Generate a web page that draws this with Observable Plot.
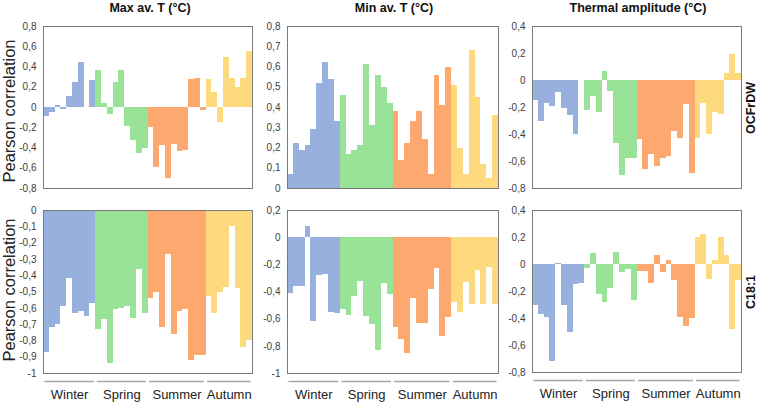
<!DOCTYPE html>
<html><head><meta charset="utf-8">
<script src="https://cdn.jsdelivr.net/npm/d3@7"></script>
<script src="https://cdn.jsdelivr.net/npm/@observablehq/plot@0.6"></script>
<style>
body{margin:0;background:#fff;font-family:"Liberation Sans",Arial,sans-serif;}
#chart{position:relative;width:758px;height:402px;overflow:hidden;background:#fff;}
.abs{position:absolute;}
.title{font-weight:bold;font-size:12.5px;color:#111;transform:translate(-50%,-50%);white-space:nowrap;}
.ylab{font-size:16.5px;color:#222;transform:translate(-50%,-50%) rotate(-90deg);white-space:nowrap;}
.rowlab{font-weight:bold;font-size:12.5px;color:#111;transform:translate(-50%,-50%) rotate(-90deg);white-space:nowrap;}
</style></head><body><div id="chart"></div>
<script>
const seasons = ["Winter", "Spring", "Summer", "Autumn"];
const seasonCounts = [9, 9, 10, 8];
const seasonColors = ["#98B0DE", "#98E398", "#FCA86E", "#FEDA7E"];

const maxT_OCFrDW = [-0.09,-0.05,0.02,-0.02,0.11,0.25,0.44,0,0.27,
  0.37,0.04,-0.07,0.25,0.37,-0.19,-0.33,-0.45,-0.40,
  -0.20,-0.59,-0.38,-0.70,-0.37,-0.43,-0.42,0.28,0.29,-0.03,
  0.28,0.15,-0.15,0.49,0.29,0.20,0.29,0.55];
const minT_OCFrDW = [0.07,0.22,0.19,0.21,0.29,0.52,0.62,0.54,0.33,
  0.46,0.17,0.19,0.21,0.61,0.31,0.56,0.50,0.42,
  0.38,0.14,0.22,0.33,0.38,0.24,0.07,0.56,0.41,0.60,
  0.51,0.20,0.07,0.68,0.45,0.12,0.05,0.36];
const ampl_OCFrDW = [-0.15,-0.30,-0.17,-0.19,-0.09,-0.21,-0.26,-0.40,0,
  -0.22,-0.12,-0.24,0.07,-0.08,-0.47,-0.70,-0.58,-0.58,
  -0.44,-0.66,-0.55,-0.64,-0.58,-0.56,-0.38,-0.43,-0.18,-0.69,
  -0.43,-0.17,-0.40,-0.24,-0.25,0.05,0.19,0.05];
const maxT_C181 = [-0.87,-0.72,-0.70,-0.59,-0.42,-0.63,-0.62,-0.65,-0.57,
  -0.73,-0.67,-0.94,-0.61,-0.60,-0.59,-0.66,-0.36,-0.63,
  -0.54,-0.50,-0.72,-0.27,-0.76,-0.62,-0.61,-0.92,-0.89,-0.89,
  -0.53,-0.63,-0.50,-0.47,-0.10,-0.48,-0.84,-0.80];
const minT_C181 = [-0.41,-0.36,-0.36,0.08,-0.62,-0.28,-0.27,-0.55,-0.56,
  -0.53,-0.57,-0.43,-0.32,-0.58,-0.64,-0.83,-0.34,-0.42,
  -0.66,-0.75,-0.85,-0.45,-0.63,-0.63,-0.38,-0.23,-0.73,-0.59,
  -0.48,-0.55,-0.33,-0.49,-0.24,-0.49,-0.22,-0.49];
const ampl_C181 = [-0.30,-0.37,-0.39,-0.72,0.01,-0.30,-0.50,-0.15,-0.14,
  -0.03,0.08,-0.22,-0.28,-0.18,0.09,-0.06,-0.04,-0.27,
  -0.05,-0.05,-0.14,0.07,-0.06,0.03,-0.12,-0.39,-0.46,-0.40,
  0.20,0.22,-0.11,0.03,0.20,0.07,-0.48,-0.12];

const ticksMaxTop = [-0.8,-0.6,-0.4,-0.2,0,0.2,0.4,0.6,0.8];
const ticksMinTop = [0,0.1,0.2,0.3,0.4,0.5,0.6,0.7,0.8];
const ticksAmpl = [-0.8,-0.6,-0.4,-0.2,0,0.2,0.4];
const ticksMaxBottom = [-1,-0.9,-0.8,-0.7,-0.6,-0.5,-0.4,-0.3,-0.2,-0.1,0];
const ticksMinBottom = [-1,-0.8,-0.6,-0.4,-0.2,0,0.2];

const titles = ["Max av. T (°C)", "Min av. T (°C)", "Thermal amplitude (°C)"];
const rowLabels = ["OCFrDW", "C18:1"];
const yLabel = "Pearson correlation";

// season index table
const seasonOf = [];
const spans = [];
let start = 0;
seasons.forEach((s, k) => {
  for (let j = 0; j < seasonCounts[k]; j++) seasonOf.push(s);
  spans.push({name: s, x1: start + 0.25, x2: start + seasonCounts[k] - 0.25, mid: start + seasonCounts[k] / 2});
  start += seasonCounts[k];
});
const N = seasonOf.length;

const fmt = d => d === 0 ? "0" : String(d).replace(".", ",");
const chart = document.getElementById("chart");
const FONT = '"Liberation Sans", Arial, sans-serif';

function panel(values, yTicks, frameLeft, frameTop, fw, fh, bottomRow) {
  const ML = 40, MR = 4, MT = 6, MB = bottomRow ? 34 : 6;
  const data = values.map((v, i) => ({i, v, season: seasonOf[i]}));
  const ymin = yTicks[0], ymax = yTicks[yTicks.length - 1];
  const marks = [
    Plot.rectY(data, {x1: "i", x2: d => d.i + 1, y: "v", fill: "season", shapeRendering: "crispEdges"}),
    Plot.frame({stroke: "#7a7a7a", strokeWidth: 1})
  ];
  if (bottomRow) {
    marks.push(Plot.ruleY(spans, {x1: "x1", x2: "x2", y: () => ymin, dy: 8, stroke: "#a8a8a8", strokeWidth: 1.5}));
    marks.push(Plot.text(spans, {x: "mid", frameAnchor: "bottom", dy: 25, text: "name", fontSize: 13, fill: "#222"}));
  }
  const svg = Plot.plot({
    width: fw + ML + MR, height: fh + MT + MB,
    marginLeft: ML, marginRight: MR, marginTop: MT, marginBottom: MB,
    x: {domain: [0, N], axis: null},
    y: {domain: [ymin, ymax], ticks: yTicks, tickFormat: fmt, tickSize: 0, tickPadding: 7, label: null},
    color: {domain: seasons, range: seasonColors},
    style: {fontFamily: FONT, fontSize: "10px", color: "#404040", background: "transparent"},
    marks
  });
  svg.classList.add("abs");
  svg.style.left = (frameLeft - ML) + "px";
  svg.style.top = (frameTop - MT) + "px";
  chart.appendChild(svg);
}

const colLeft = [43, 287, 532];
const colW = [209, 211, 209];
panel(maxT_OCFrDW, ticksMaxTop, colLeft[0], 26, colW[0], 162, false);
panel(minT_OCFrDW, ticksMinTop, colLeft[1], 26, colW[1], 162, false);
panel(ampl_OCFrDW, ticksAmpl, colLeft[2], 26, colW[2], 162, false);
panel(maxT_C181, ticksMaxBottom, colLeft[0], 210, colW[0], 163, true);
panel(minT_C181, ticksMinBottom, colLeft[1], 210, colW[1], 163, true);
panel(ampl_C181, ticksAmpl, colLeft[2], 210, colW[2], 162, true);

function addText(cls, text, x, y) {
  const d = document.createElement("div");
  d.className = "abs " + cls;
  d.textContent = text;
  d.style.left = x + "px";
  d.style.top = y + "px";
  chart.appendChild(d);
}
addText("title", titles[0], 150, 8);
addText("title", titles[1], 394, 8);
addText("title", titles[2], 638, 8);
addText("ylab", yLabel, 9, 111);
addText("ylab", yLabel, 9, 290);
addText("rowlab", rowLabels[0], 751, 108);
addText("rowlab", rowLabels[1], 751, 292);
</script></body></html>
